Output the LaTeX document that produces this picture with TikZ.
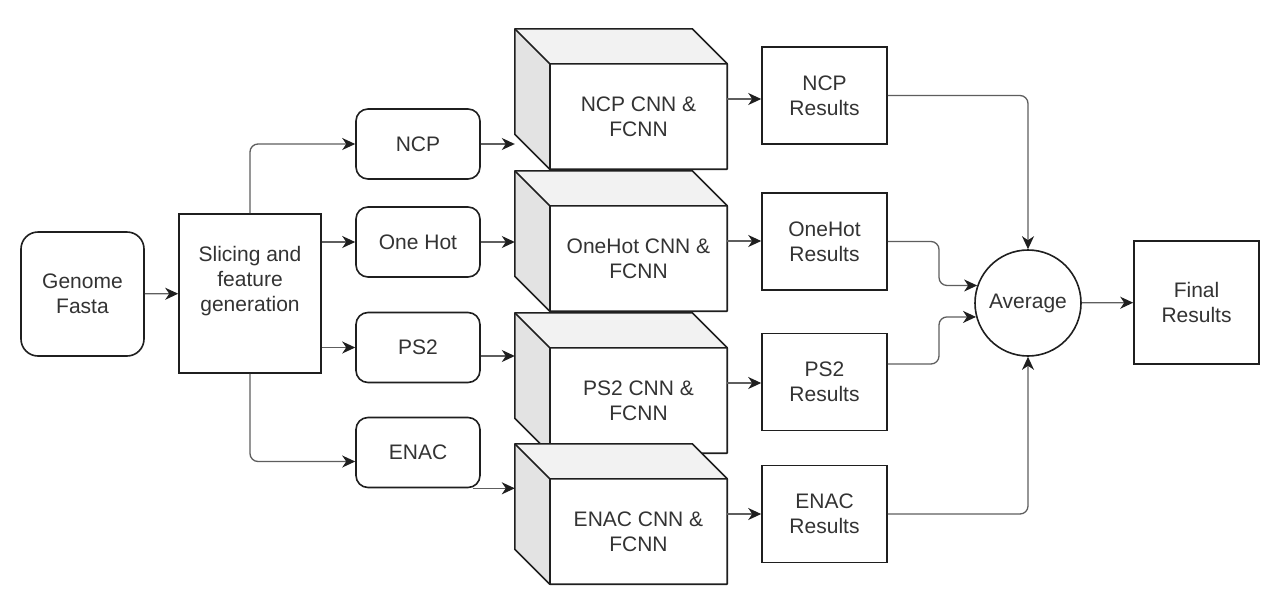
\documentclass[tikz,border=0pt]{standalone}
\usepackage{fontspec}
\setmainfont{Liberation Sans}
\usetikzlibrary{arrows.meta,calc}
\definecolor{txt}{HTML}{333333}
\definecolor{edgec}{HTML}{1F1F1F}
\definecolor{conn}{HTML}{5E5E5E}
\definecolor{topface}{HTML}{F2F2F2}
\definecolor{sideface}{HTML}{E3E3E3}
\tikzset{
  base/.style={draw=edgec, line width=1.6pt, fill=white, text=txt,
    font=\fontsize{21}{25}\selectfont, align=center, inner sep=0pt},
  rbox/.style={base, rounded corners=12pt},
  sbox/.style={base},
  cubebox/.style={inner sep=0pt, minimum width=212pt, minimum height=140pt},
  cubeline/.style={draw=edgec, line width=1.6pt, line join=round},
  cubetext/.style={text=txt, font=\fontsize{21}{25}\selectfont, align=center, inner sep=0pt},
  arr/.style={draw=conn, line width=1.3pt, rounded corners=8pt,
    -{Stealth[length=13pt, width=12pt, inset=4pt, color=edgec]}},
}
\newcommand\drawcube[4]{%
  \node[cubebox] (#1) at (#2,#3) {};
  \fill[topface] (#1.north west) -- ($(#1.north east)+(-35,0)$) -- ($(#1.north east)+(0,35)$) -- ($(#1.north west)+(35,35)$) -- cycle;
  \fill[sideface] (#1.north west) -- ($(#1.north west)+(35,35)$) -- ($(#1.south west)+(35,0)$) -- ($(#1.south west)+(0,-35)$) -- cycle;
  \fill[white] ($(#1.north west)+(35,35)$) rectangle (#1.south east);
  \draw[cubeline] (#1.north west) -- ($(#1.north east)+(-35,0)$) -- ($(#1.north east)+(0,35)$) -- (#1.south east) -- ($(#1.south west)+(35,0)$) -- ($(#1.south west)+(0,-35)$) -- cycle;
  \draw[cubeline] (#1.north west) -- ($(#1.north west)+(35,35)$) -- ($(#1.north east)+(0,35)$);
  \draw[cubeline] ($(#1.north west)+(35,35)$) -- ($(#1.south west)+(35,0)$);
  \node[cubetext] (#1t) at ($(#1.center)+(17.5,17.5)$) {#4};
}
\begin{document}
\begin{tikzpicture}[x=1pt, y=-1pt]
\useasboundingbox[fill=white] (0,0) rectangle (1282,611);

% left part
\node[base, rounded corners=17pt, minimum width=123pt, minimum height=124pt] (genome) at (82.5,294) {Genome\\Fasta};
\node[sbox, minimum width=142pt, minimum height=159pt,
  label={[cubetext, yshift=12pt, name=slicingt]center:Slicing and\\feature\\generation}] (slicing) at (250,293.5) {};

% feature boxes
\node[rbox, minimum width=124pt, minimum height=70pt] (ncp) at (418,144) {NCP};
\node[rbox, minimum width=124pt, minimum height=70pt] (onehot) at (418,242) {One Hot};
\node[rbox, minimum width=124pt, minimum height=70pt] (ps2) at (418,347.5) {PS2};
\node[rbox, minimum width=124pt, minimum height=70pt] (enac) at (418,452.5) {ENAC};

% cubes
\drawcube{ncpc}{621}{99}{NCP CNN \&\\FCNN}
\drawcube{ohc}{621}{241}{OneHot CNN \&\\FCNN}
\drawcube{psc}{621}{383}{PS2 CNN \&\\FCNN}
\drawcube{enc}{621}{514}{ENAC CNN \&\\FCNN}

% results
\node[sbox, minimum width=125pt, minimum height=97pt] (ncpr) at (824.5,95.5) {NCP\\Results};
\node[sbox, minimum width=125pt, minimum height=97pt] (ohr) at (824.5,241.5) {OneHot\\Results};
\node[sbox, minimum width=125pt, minimum height=97pt] (psr) at (824.5,382) {PS2\\Results};
\node[sbox, minimum width=125pt, minimum height=97pt] (enr) at (824.5,514) {ENAC\\Results};

\node[base, circle, minimum size=106pt] (avg) at (1028,303) {Average};
\node[sbox, minimum width=125pt, minimum height=123pt] (final) at (1196.5,302.5) {Final\\Results};

\coordinate (jx) at (939,303);

% connectors
\draw[arr] (genome) -- (slicing);
\draw[arr] (slicing.north) |- (ncp.west);
\draw[arr] (slicing.east |- onehot.west) -- (onehot.west);
\draw[arr] (slicing.east |- ps2.west) -- (ps2.west);
\draw[arr] (slicing.south) |- ($(enac.west)+(0,9)$);

\draw[arr] (ncp.east) -- (ncp.east -| ncpc.west);
\draw[arr] (onehot.east) -- (onehot.east -| ohc.west);
\draw[arr] ($(ps2.east)+(0,8.5)$) -- ($(ps2.east -| psc.west)+(0,8.5)$);
\draw[arr] ($(enac.south east)+(-8,0)$) -- (enac.south east -| enc.west);

\draw[arr] (ncpc.east) -- (ncpc.east -| ncpr.west);
\draw[arr] (ohc.east) -- (ohc.east -| ohr.west);
\draw[arr] (psc.east) -- (psc.east -| psr.west);
\draw[arr] (enc.east) -- (enc.east -| enr.west);

\draw[arr] (ncpr.east) -| (avg.north);
\draw[arr] (ohr.east) -| (jx |- avg.161) -- (avg.161);
\draw[arr] ($(psr.east)+(0,-18)$) -| (jx |- avg.195) -- (avg.195);
\draw[arr] (enr.east) -| (avg.south);
\draw[arr] (avg) -- (final);
\end{tikzpicture}
\end{document}
